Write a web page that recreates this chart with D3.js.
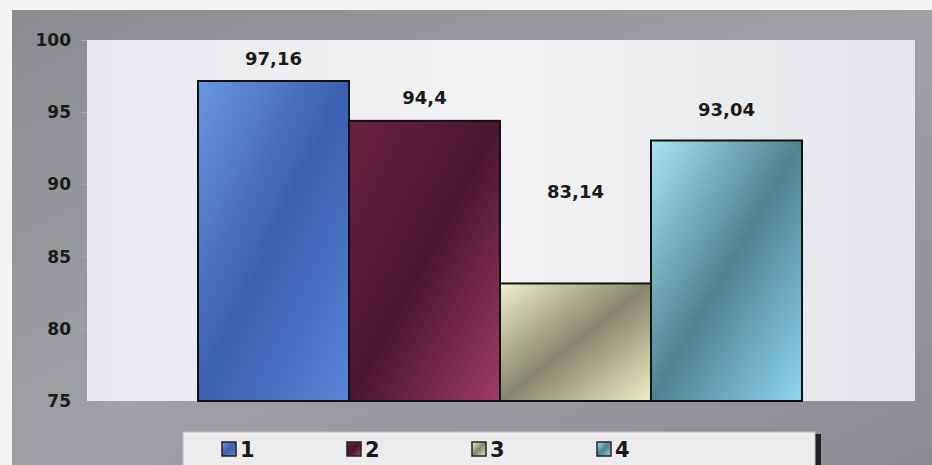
<!DOCTYPE html>
<html>
<head>
<meta charset="utf-8">
<script src="https://cdn.jsdelivr.net/npm/d3@7"></script>
<style>
  body { margin: 0; background: #f4f4f4; }
  svg { display: block; font-family: "DejaVu Sans", sans-serif; font-weight: bold; }
</style>
</head>
<body>
<div id="chart"></div>
<script>
// chart data
var series = ["1", "2", "3", "4"];
var values = [97.16, 94.4, 83.14, 93.04];
var valueLabels = ["97,16", "94,4", "83,14", "93,04"];
// where the data labels sit, in axis units (label for series 3 floats high)
var labelAt = [98.7, 96.0, 89.5, 95.2];
var yTicks = [75, 80, 85, 90, 95, 100];

// gradient stops per series: light, dark, light
var colors = [
  ["#6a96e2", "#3a5fae", "#5a86d8"],
  ["#6a2140", "#4a1530", "#a03c66"],
  ["#f0f0cc", "#85866c", "#eeeec6"],
  ["#a8e4f6", "#4e8290", "#8fd6ef"]
];

var svgWidth = 932;
var svgHeight = 465;

var margin = { top: 40, right: 17, bottom: 64, left: 87 };
var width = svgWidth - margin.left - margin.right;
var height = svgHeight - margin.top - margin.bottom;

var svg = d3.select("#chart")
  .append("svg")
  .attr("width", svgWidth)
  .attr("height", svgHeight);

var defs = svg.append("defs");

// frame gradient
var fg = defs.append("linearGradient").attr("id", "frame")
  .attr("x1", "0").attr("y1", "0").attr("x2", "1").attr("y2", "1");
fg.append("stop").attr("offset", "0%").attr("stop-color", "#8a8c90");
fg.append("stop").attr("offset", "50%").attr("stop-color", "#9fa1a5");
fg.append("stop").attr("offset", "100%").attr("stop-color", "#8a8c90");

var pg = defs.append("linearGradient").attr("id", "plotbg")
  .attr("x1", "0").attr("y1", "0").attr("x2", "1").attr("y2", "0");
pg.append("stop").attr("offset", "0%").attr("stop-color", "#e8e9ec");
pg.append("stop").attr("offset", "50%").attr("stop-color", "#f2f2f4");
pg.append("stop").attr("offset", "100%").attr("stop-color", "#e4e5e8");

colors.forEach(function(c, i) {
  var g = defs.append("linearGradient").attr("id", "bar" + i)
    .attr("x1", "0").attr("y1", "0").attr("x2", "1").attr("y2", "1");
  g.append("stop").attr("offset", "0%").attr("stop-color", c[0]);
  g.append("stop").attr("offset", "50%").attr("stop-color", c[1]);
  g.append("stop").attr("offset", "100%").attr("stop-color", c[2]);
});

// outer frame
svg.append("rect")
  .attr("x", 12).attr("y", 10)
  .attr("width", svgWidth - 12).attr("height", svgHeight - 10)
  .attr("fill", "url(#frame)");

var chartGroup = svg.append("g")
  .attr("transform", `translate(${margin.left}, ${margin.top})`);

// plot area
chartGroup.append("rect")
  .attr("width", width).attr("height", height)
  .attr("fill", "url(#plotbg)");

var yScale = d3.scaleLinear().domain([75, 100]).range([height, 0]);

var xScale = d3.scaleBand()
  .domain(series)
  .range([111, 111 + 604])
  .paddingInner(0);

var leftAxis = d3.axisLeft(yScale)
  .tickValues(yTicks)
  .tickSize(6)
  .tickPadding(10);

var yAxis = chartGroup.append("g").call(leftAxis);
yAxis.select(".domain").remove();
yAxis.selectAll("line").attr("stroke", "#a8aaae");
yAxis.selectAll("text")
  .attr("fill", "#1a1a1a")
  .style("font-size", "17px")
  .style("font-weight", "bold")
  .style("font-family", "'DejaVu Sans', sans-serif");

// bars
chartGroup.selectAll(".bar")
  .data(values)
  .enter()
  .append("rect")
  .attr("class", "bar")
  .attr("x", (d, i) => xScale(series[i]))
  .attr("y", d => yScale(d))
  .attr("width", xScale.bandwidth())
  .attr("height", d => height - yScale(d))
  .attr("fill", (d, i) => `url(#bar${i})`)
  .attr("stroke", "#111")
  .attr("stroke-width", 2);

// value labels
chartGroup.selectAll(".vlabel")
  .data(valueLabels)
  .enter()
  .append("text")
  .attr("class", "vlabel")
  .attr("x", (d, i) => xScale(series[i]) + xScale.bandwidth() / 2)
  .attr("y", (d, i) => yScale(labelAt[i]))
  .attr("text-anchor", "middle")
  .attr("dy", "0.35em")
  .attr("fill", "#1a1a1a")
  .style("font-size", "18px")
  .text(d => d);

// legend
var legend = svg.append("g").attr("transform", "translate(183, 432)");
legend.append("rect")
  .attr("x", 3).attr("y", 2)
  .attr("width", 635).attr("height", 40)
  .attr("fill", "#222");
legend.append("rect")
  .attr("width", 632).attr("height", 40)
  .attr("fill", "#ececee")
  .attr("stroke", "#bfc0c4");

var legendItems = legend.selectAll(".litem")
  .data(series)
  .enter()
  .append("g")
  .attr("class", "litem")
  .attr("transform", (d, i) => `translate(${39 + i * 125}, 17)`);

legendItems.append("rect")
  .attr("x", 0).attr("y", -7)
  .attr("width", 14).attr("height", 14)
  .attr("fill", (d, i) => `url(#bar${i})`)
  .attr("stroke", "#222")
  .attr("stroke-width", 1.5);

legendItems.append("text")
  .attr("x", 18)
  .attr("dy", "0.36em")
  .attr("fill", "#1a1a1a")
  .style("font-size", "21px")
  .text(d => d);
</script>
</body>
</html>
